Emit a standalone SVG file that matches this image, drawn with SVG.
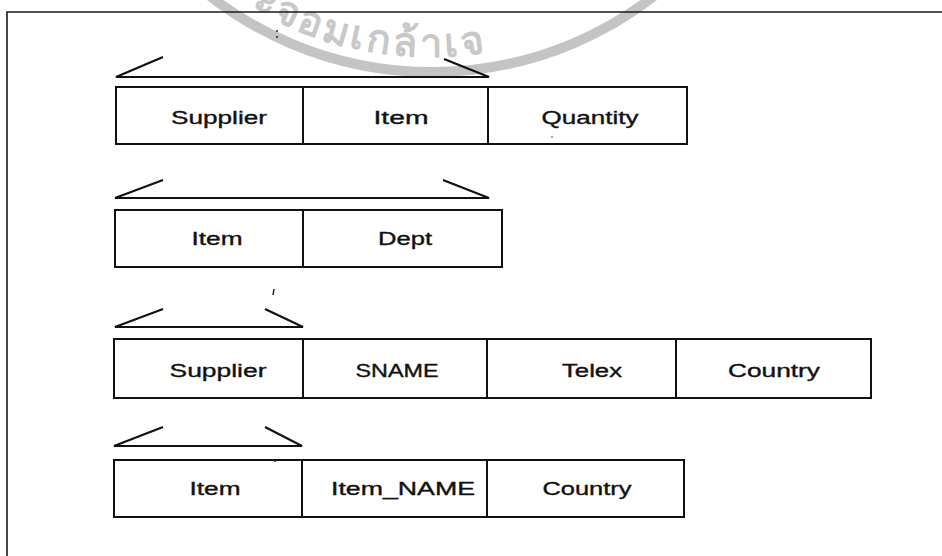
<svg xmlns="http://www.w3.org/2000/svg" width="942" height="556" viewBox="0 0 942 556">
<style>
.frame{fill:none;stroke:#1a1a1a;stroke-width:1.6}
.box{fill:#fff;stroke:#111;stroke-width:2}
.div{stroke:#111;stroke-width:2}
.key{fill:none;stroke:#111;stroke-width:2.2;stroke-linejoin:miter}
.t{font-family:"Liberation Sans",Arial,sans-serif;font-size:18px;fill:#111;stroke:#111;stroke-width:0.35;text-anchor:middle}
.wm{fill:none;stroke:#c4c4c4;stroke-width:10}
.wmt{font-family:"Noto Sans","DejaVu Sans",sans-serif;font-size:40px;font-weight:bold;letter-spacing:3px;fill:#c8c8c8}
.speck{fill:#222}
</style>
<defs>
<path id="wmArc" d="M 129.5,-116.5 A 347 347 0 0 0 730.5,-116.5"/>
</defs>
<rect width="942" height="556" fill="#fff"/>
<g id="watermark">
<path class="wm" d="M 180,-30 A 362 362 0 0 0 684,-30"/>
<text class="wmt" text-anchor="middle"><textPath href="#wmArc" startOffset="41%">ะจอมเกล้าเจ</textPath></text>
</g>
<g id="frame">
<polyline class="frame" points="7,556 7,12 942,12"/>
</g>
<g id="connectors">
<polyline class="key" points="163,57 116,77 489,77 444,59"/>
<polyline class="key" points="163,180 115,198 489,198 443,180"/>
<polyline class="key" points="163,309 115,327 303,327 265,309"/>
<polyline class="key" points="163,427 114,446 302,446 265,427"/>
</g>
<g id="table1">
<rect class="box" x="116" y="87" width="571" height="57"/>
<line class="div" x1="303" y1="87" x2="303" y2="144"/>
<line class="div" x1="488" y1="87" x2="488" y2="144"/>
<text class="t" x="219" y="124" textLength="96" lengthAdjust="spacingAndGlyphs">Supplier</text>
<text class="t" x="401" y="124" textLength="55" lengthAdjust="spacingAndGlyphs">Item</text>
<text class="t" x="590" y="124" textLength="97" lengthAdjust="spacingAndGlyphs">Quantity</text>
</g>
<g id="table2">
<rect class="box" x="115" y="210" width="387" height="57"/>
<line class="div" x1="303" y1="210" x2="303" y2="267"/>
<text class="t" x="217" y="245" textLength="51" lengthAdjust="spacingAndGlyphs">Item</text>
<text class="t" x="405" y="245" textLength="54" lengthAdjust="spacingAndGlyphs">Dept</text>
</g>
<g id="table3">
<rect class="box" x="114" y="339" width="757" height="59"/>
<line class="div" x1="303" y1="339" x2="303" y2="398"/>
<line class="div" x1="487" y1="339" x2="487" y2="398"/>
<line class="div" x1="676" y1="339" x2="676" y2="398"/>
<text class="t" x="218" y="377" textLength="97" lengthAdjust="spacingAndGlyphs">Supplier</text>
<text class="t" x="397" y="377" textLength="83" lengthAdjust="spacingAndGlyphs">SNAME</text>
<text class="t" x="592" y="377" textLength="60" lengthAdjust="spacingAndGlyphs">Telex</text>
<text class="t" x="774" y="377" textLength="92" lengthAdjust="spacingAndGlyphs">Country</text>
</g>
<g id="table4">
<rect class="box" x="114" y="460" width="570" height="57"/>
<line class="div" x1="302" y1="460" x2="302" y2="517"/>
<line class="div" x1="487" y1="460" x2="487" y2="517"/>
<text class="t" x="215" y="495" textLength="51" lengthAdjust="spacingAndGlyphs">Item</text>
<text class="t" x="403" y="495" textLength="144" lengthAdjust="spacingAndGlyphs">Item_NAME</text>
<text class="t" x="587" y="495" textLength="89" lengthAdjust="spacingAndGlyphs">Country</text>
</g>
<g id="specks">
<circle class="speck" cx="277" cy="31" r="1"/>
<circle class="speck" cx="277" cy="37" r="1"/>
<path d="M274,289 L273,295" stroke="#222" stroke-width="1.5"/>
<circle class="speck" cx="275" cy="461" r="1"/>
<circle cx="552" cy="137" r="1" fill="#888"/>
</g>
</svg>
